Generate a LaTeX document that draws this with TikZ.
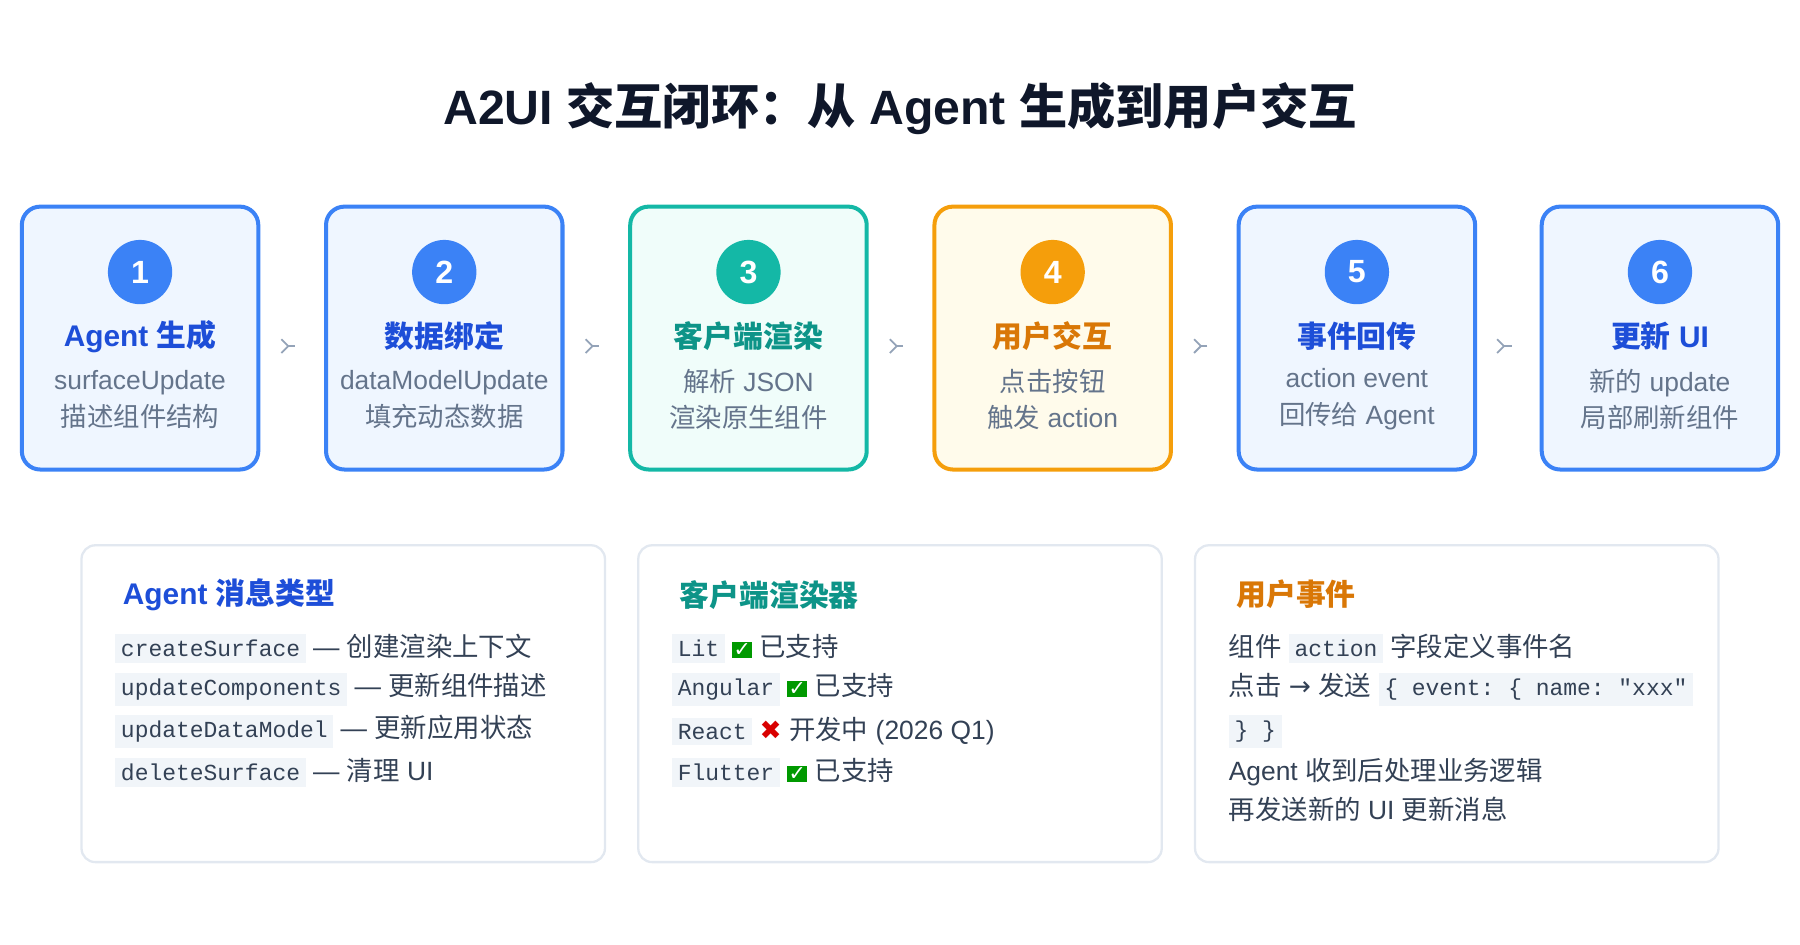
\documentclass[tikz,border=0pt]{standalone}
\usepackage{fontspec}
\setmainfont{Liberation Sans}
\setmonofont{Liberation Mono}
\newfontfamily\zhfont{Noto Sans CJK SC}
\newfontfamily\symfont{DejaVu Sans}
\newcommand{\zh}[1]{{\zhfont #1}}
\usetikzlibrary{positioning,arrows.meta}
\definecolor{stepblue}{HTML}{3B82F6}
\definecolor{fillblue}{HTML}{EFF6FF}
\definecolor{headblue}{HTML}{1D4ED8}
\definecolor{stepteal}{HTML}{14B8A6}
\definecolor{fillteal}{HTML}{F0FDFA}
\definecolor{headteal}{HTML}{0D9488}
\definecolor{steporange}{HTML}{F59E0B}
\definecolor{fillorange}{HTML}{FFFBEB}
\definecolor{headorange}{HTML}{D97706}
\definecolor{subgray}{HTML}{64748B}
\definecolor{arrgray}{HTML}{94A3B8}
\definecolor{titleink}{HTML}{0F172A}
\definecolor{bodyink}{HTML}{334155}
\definecolor{panelline}{HTML}{E2E8F0}
\definecolor{codebg}{HTML}{F1F5F9}
\newcommand{\code}[1]{{\setlength{\fboxsep}{2.5pt}\colorbox{codebg}{\ttfamily\fontsize{10}{12}\selectfont #1}}}
\newcommand{\okmark}{{\setlength{\fboxsep}{0.6pt}\colorbox{green!60!black}{\symfont\color{white}\bfseries\fontsize{9}{9}\selectfont ✓}}}
\newcommand{\nomark}{{\symfont\color{red!85!black}✖}}

\tikzset{
  step/.style={draw=#1, line width=1.75pt, rounded corners=8pt, minimum width=103pt, minimum height=114.5pt},
  badge/.style={circle, fill=#1, minimum size=28pt, inner sep=0pt, text=white, font=\bfseries\fontsize{14}{14}\selectfont},
  stephead/.style={text=#1, font=\bfseries\fontsize{13}{15}\selectfont},
  stepsub/.style={text=subgray, font=\fontsize{11.5}{16}\selectfont, align=center},
  flow/.style={draw=arrgray, line width=0.8pt, -{Straight Barb[length=3pt,width=6pt]}, shorten >=15pt, shorten <=15pt},
  panel/.style={draw=panelline, line width=1pt, rounded corners=6pt, fill=white, minimum width=228pt, minimum height=138pt},
  panelhead/.style={anchor=west, text=#1, font=\bfseries\fontsize{13}{15}\selectfont},
  line/.style={anchor=west, text=bodyink, font=\fontsize{11.5}{14}\selectfont, inner sep=0pt}
}

\begin{document}
\begin{tikzpicture}[x=0.5pt,y=-0.5pt]
\useasboundingbox (0,0) rectangle (1568,823);

\node[text=titleink, font=\bfseries\fontsize{21}{24}\selectfont] (title) at (784,95) {A2UI \zh{交互闭环：从} Agent \zh{生成到用户交互}};

% step boxes
\foreach \i/\cx/\col/\num/\head/\subA/\subB in {
  1/122/blue/1/{Agent \zh{生成}}/surfaceUpdate/{\zh{描述组件结构}},
  2/387/blue/2/{\zh{数据绑定}}/dataModelUpdate/{\zh{填充动态数据}},
  3/652/teal/3/{\zh{客户端渲染}}/{\zh{解析} JSON}/{\zh{渲染原生组件}},
  4/917/orange/4/{\zh{用户交互}}/{\zh{点击按钮}}/{\zh{触发} action},
  5/1182/blue/5/{\zh{事件回传}}/action event/{\zh{回传给} Agent},
  6/1446/blue/6/{\zh{更新} UI}/{\zh{新的} update}/{\zh{局部刷新组件}}}{
  \node[step=step\col, fill=fill\col] (b\i) at (\cx,294.5) {};
  \node[badge=step\col] (n\i) at (\cx,237) {\num};
  \node[stephead=head\col] (h\i) at (\cx,293) {\head};
  \node[stepsub] (s\i) at (\cx,348) {\subA\\\subB};
}
\foreach \a/\b in {1/2,2/3,3/4,4/5,5/6}
  \draw[flow] ([yshift=-3.5pt]b\a.east) -- ([yshift=-3.5pt]b\b.west);

% panels
\node[panel] (p1) at (299,613) {};
\node[panel] (p2) at (784,613) {};
\node[panel] (p3) at (1269,613) {};

\node[panelhead=headblue] (t1) at (100,518) {Agent \zh{消息类型}};
\node[line] (l11) at (100,565) {\code{createSurface} — \zh{创建渲染上下文}};
\node[line] (l12) at (100,601) {\code{updateComponents} — \zh{更新组件描述}};
\node[line] (l13) at (100,637) {\code{updateDataModel} — \zh{更新应用状态}};
\node[line] (l14) at (100,673) {\code{deleteSurface} — \zh{清理} UI};

\node[panelhead=headteal] (t2) at (585,518) {\zh{客户端渲染器}};
\node[line] (l21) at (585,565) {\code{Lit} \okmark\ \zh{已支持}};
\node[line] (l22) at (585,601) {\code{Angular} \okmark\ \zh{已支持}};
\node[line] (l23) at (585,637) {\code{React} \nomark\ \zh{开发中} (2026 Q1)};
\node[line] (l24) at (585,673) {\code{Flutter} \okmark\ \zh{已支持}};

\node[panelhead=headorange] (t3) at (1070,518) {\zh{用户事件}};
\node[line] (l31) at (1070,565) {\zh{组件} \code{action} \zh{字段定义事件名}};
\node[line] (l32) at (1070,601) {\zh{点击} {\symfont →} \zh{发送} \code{\{ event: \{ name: "xxx"}};
\node[line] (l33) at (1070,637) {\code{\} \}}};
\node[line] (l34) at (1070,673) {Agent \zh{收到后处理业务逻辑}};
\node[line] (l35) at (1070,705) {\zh{再发送新的} UI \zh{更新消息}};
\end{tikzpicture}
\end{document}
